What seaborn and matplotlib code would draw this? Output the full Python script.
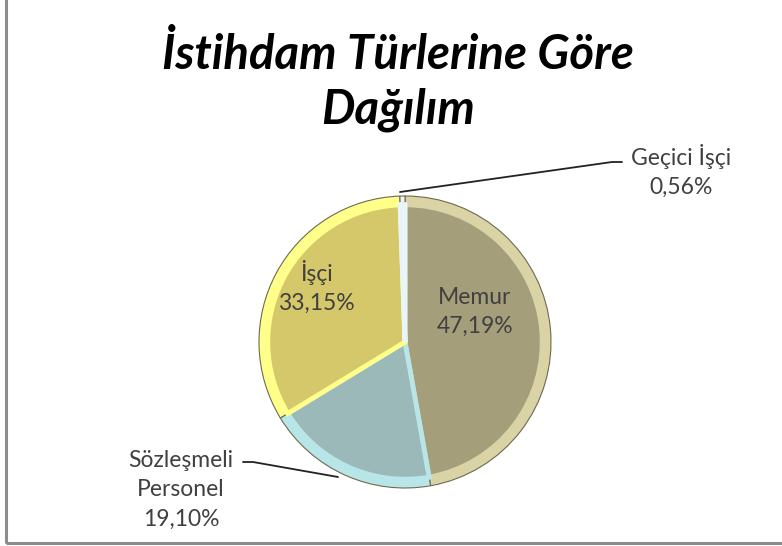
import matplotlib
matplotlib.use("Agg")
import matplotlib.pyplot as plt
import seaborn as sns
from matplotlib.patches import Rectangle

categories = ["Memur", "Sözleşmeli\nPersonel", "İşçi", "Geçici İşçi"]
values = [47.19, 19.10, 33.15, 0.56]
pct_labels = ["47,19%", "19,10%", "33,15%", "0,56%"]
title = "İstihdam Türlerine Göre\nDağılım"

sns.set_theme(style="white")
plt.rcParams['font.family'] = ['Lato', 'DejaVu Sans']

main_colors = ["#A59E7A", "#9BB9B9", "#D4C86B", "#C9E4EE"]
edge_colors = ["#D9D3A6", "#B8E6E8", "#FFFF8A", "#E8F6FA"]

W, H = 782, 546
fig = plt.figure(figsize=(W / 100, H / 100), dpi=100)
fig.patch.set_facecolor("white")

# outer frame
fig.add_artist(Rectangle((6 / W, 3 / H), (W + 10) / W, (H + 10) / H,
                         transform=fig.transFigure, fill=False,
                         edgecolor="#8C8C8C", linewidth=2.2))

# pie axes: center (405, 342) px, radius ~145 px
cx, cy, r = 405, 342, 146
ax = fig.add_axes([(cx - r) / W, 1 - (cy + r) / H, 2 * r / W, 2 * r / H])
ax.axis("off")

# bevel layer (light edge)
ax.pie(values, colors=edge_colors, startangle=90, counterclock=False,
       radius=1.0, center=(0, 0), frame=False,
       wedgeprops=dict(edgecolor="#6E6A50", linewidth=0.8))
# inner main layer
w2, _ = ax.pie(values, colors=main_colors, startangle=90, counterclock=False,
               radius=0.94, center=(0, 0), frame=False,
               wedgeprops=dict(linewidth=0))
for i, w in enumerate(w2):
    w.set_edgecolor(edge_colors[i])
    w.set_linewidth(3.5)
ax.set_xlim(-1, 1)
ax.set_ylim(-1, 1)
ax.set_aspect("auto")

txt_color = "#404040"
fs = 16.5

def px(x, y):
    return (x / W, 1 - y / H)

fig.text(*px(475, 312), categories[0] + "\n" + pct_labels[0], ha="center", va="center",
         fontsize=fs, color=txt_color, linespacing=1.5)
fig.text(*px(316, 287), categories[2] + "\n" + pct_labels[2], ha="center", va="center",
         fontsize=fs, color=txt_color, linespacing=1.5)
fig.text(*px(181, 490), categories[1] + "\n" + pct_labels[1], ha="center", va="center",
         fontsize=fs, color=txt_color, linespacing=1.5)
fig.text(*px(681, 171), categories[3] + "\n" + pct_labels[3], ha="center", va="center",
         fontsize=fs, color=txt_color, linespacing=1.5)

# leader lines
fig.add_artist(plt.Line2D([243 / W, 253 / W, 338 / W],
                          [1 - 462 / H, 1 - 462 / H, 1 - 477 / H],
                          color="#222222", linewidth=1.3, transform=fig.transFigure))
fig.add_artist(plt.Line2D([622 / W, 612 / W, 400 / W],
                          [1 - 162 / H, 1 - 162 / H, 1 - 192 / H],
                          color="#222222", linewidth=1.3, transform=fig.transFigure))

# title
fig.text(*px(398, 82), title, ha="center", va="center", fontsize=34,
         fontweight="bold", fontstyle="italic", color="black", linespacing=1.3)

fig.savefig("out.png", dpi=100)
